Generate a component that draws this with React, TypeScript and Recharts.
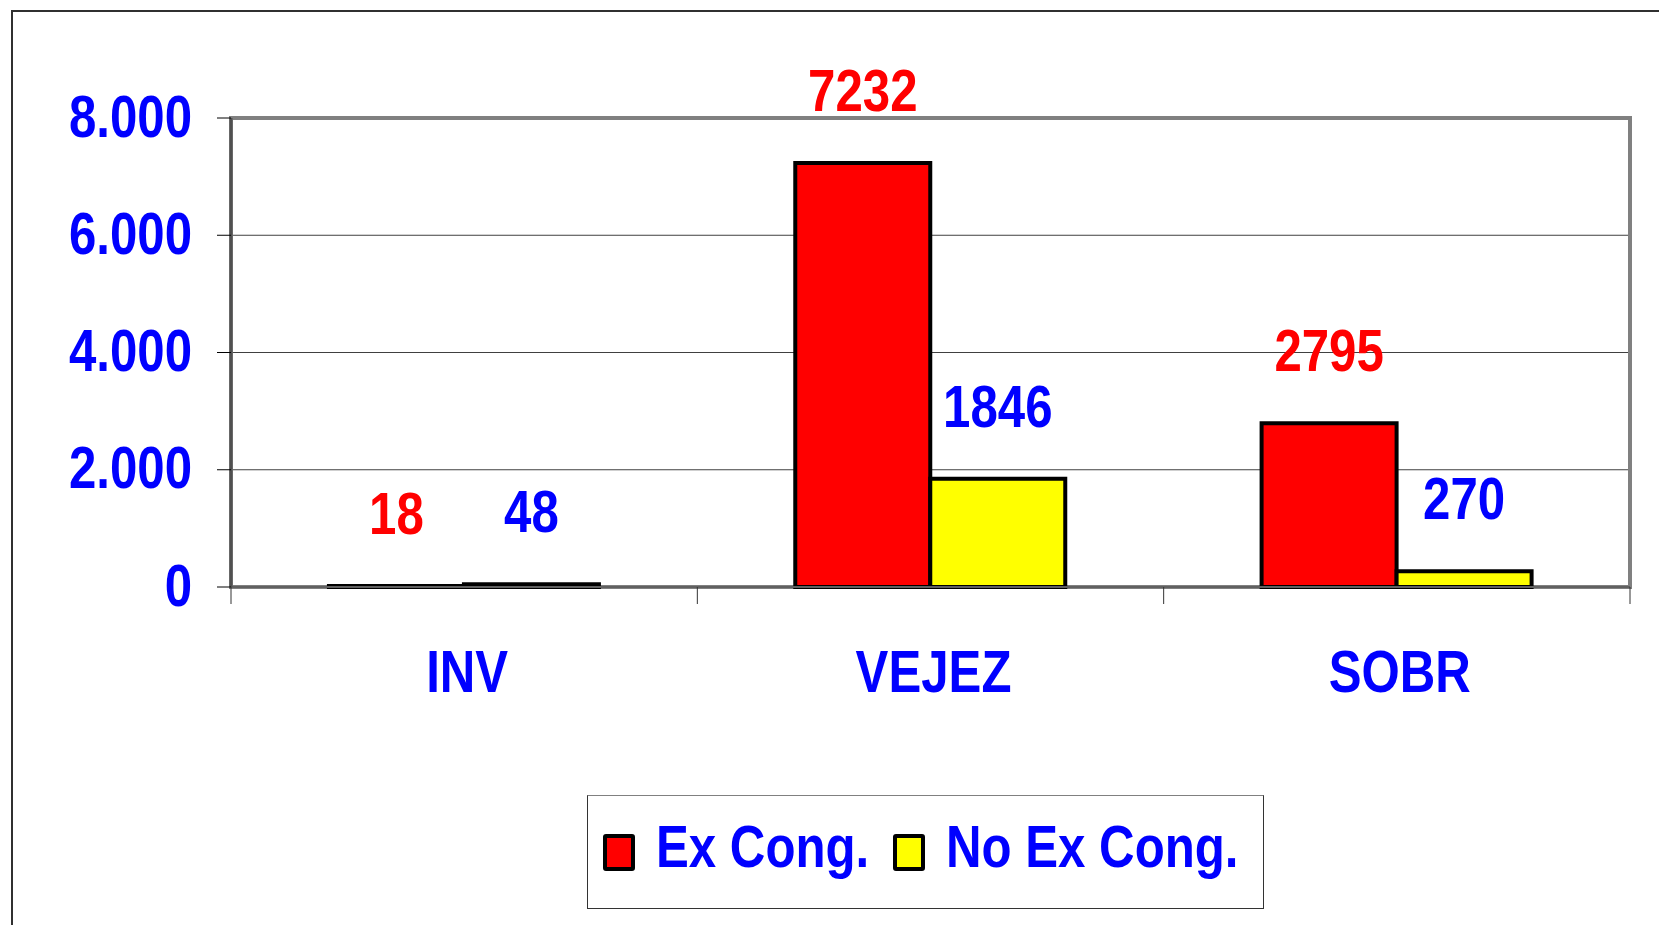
import React from 'react'
import { BarChart, Bar, XAxis, YAxis, CartesianGrid, ReferenceArea, LabelList } from 'recharts'

const categories = ['INV', 'VEJEZ', 'SOBR']
const exCong = [18, 7232, 2795]
const noExCong = [48, 1846, 270]
const seriesNames = ['Ex Cong.', 'No Ex Cong.']
const yTicks = [0, 2000, 4000, 6000, 8000]

// no Arial Narrow here, so squeeze Liberation Sans horizontally
const FONT = '"Liberation Sans", Arial, sans-serif'
const NARROW = 0.82
const BLUE = '#0000FF'
const RED = '#FF0000'
const YELLOW = '#FFFF00'

const data = categories.map((name, i) => ({
  name,
  exCong: exCong[i],
  noExCong: noExCong[i]
}))

// 8000 -> "8.000"
const formatThousands = (v: number) => String(v).replace(/\B(?=(\d{3})+(?!\d))/g, '.')

const NarrowText = ({ x, y, anchor, color, children, dy }: any) => (
  <text
    transform={`translate(${x},${y}) scale(${NARROW},1)`}
    textAnchor={anchor}
    dy={dy}
    fill={color}
    fontSize={60}
    fontWeight="bold"
    fontFamily={FONT}
  >
    {children}
  </text>
)

const CategoryTick = (props: any) => {
  const { x, y, payload, index } = props
  const half = payload.offset ?? 0
  return (
    <g>
      <line x1={x - half} x2={x - half} y1={y} y2={y + 17} stroke="#333" />
      {index === categories.length - 1 && (
        <line x1={x + half} x2={x + half} y1={y} y2={y + 17} stroke="#333" />
      )}
      <NarrowText x={x + 3} y={y + 105} anchor="middle" color={BLUE}>{payload.value}</NarrowText>
    </g>
  )
}

const ValueTick = (props: any) => {
  const { x, y, payload } = props
  return (
    <NarrowText x={x} y={y} dy="0.31em" anchor="end" color={BLUE}>
      {formatThousands(payload.value)}
    </NarrowText>
  )
}

const valueLabel = (color: string) => (props: any) => {
  const { x, y, width, value } = props
  return <NarrowText x={x + width / 2} y={y - 52} anchor="middle" color={color}>{value}</NarrowText>
}

const LegendKey = ({ color }: { color: string }) => (
  <span style={{
    display: 'inline-block', width: 24, height: 29, background: color,
    border: '4px solid #000', borderRadius: 3
  }} />
)

const LegendText = ({ text, width }: { text: string, width: number }) => (
  <span style={{ display: 'inline-block', width, whiteSpace: 'nowrap', lineHeight: 1 }}>
    <span style={{ display: 'inline-block', transform: `scaleX(${NARROW})`, transformOrigin: 'left center' }}>{text}</span>
  </span>
)

export default function App() {
  return (
    <div style={{ position: 'relative', width: 1643, height: 909, overflow: 'hidden', background: '#fff' }}>
      <div style={{ position: 'fixed', left: 11, top: 10, width: 1700, height: 1000, border: '2px solid #303030' }} />
      <BarChart
        width={1643}
        height={909}
        data={data}
        barCategoryGap="21%"
        barGap={0}
        margin={{ top: 110, right: 21, left: 0, bottom: 230 }}
      >
        <CartesianGrid vertical={false} stroke="#404040" />
        <ReferenceArea y1={0} y2={8000} fill="none" stroke="#808080" strokeWidth={4} ifOverflow="visible" />
        <XAxis
          dataKey="name"
          height={100}
          tickSize={0}
          tickMargin={0}
          tickLine={false}
          interval={0}
          axisLine={{ stroke: '#606060', strokeWidth: 2 }}
          tick={<CategoryTick />}
        />
        <YAxis
          width={223}
          domain={[0, 8000]}
          ticks={yTicks}
          interval={0}
          tickSize={14}
          tickMargin={25}
          tickLine={{ stroke: '#000' }}
          axisLine={{ stroke: '#505050', strokeWidth: 3 }}
          tick={<ValueTick />}
        />
        <Bar dataKey="exCong" name={seriesNames[0]} fill={RED} stroke="#000" strokeWidth={4} isAnimationActive={false}>
          <LabelList dataKey="exCong" content={valueLabel(RED)} />
        </Bar>
        <Bar dataKey="noExCong" name={seriesNames[1]} fill={YELLOW} stroke="#000" strokeWidth={4} isAnimationActive={false}>
          <LabelList dataKey="noExCong" content={valueLabel(BLUE)} />
        </Bar>
      </BarChart>
      <div style={{
        position: 'absolute', left: 579, top: 787, width: 675, height: 112,
        border: '1px solid #333', borderTopColor: '#808080', background: '#fff', display: 'flex', alignItems: 'center',
        fontFamily: FONT, fontWeight: 'bold', fontSize: 60, color: BLUE
      }}>
        <span style={{ marginLeft: 15, display: 'flex', alignItems: 'center', marginTop: 0 }}><LegendKey color={RED} /></span>
        <span style={{ marginLeft: 21, marginTop: -12 }}><LegendText text={seriesNames[0]} width={215} /></span>
        <span style={{ marginLeft: 22, display: 'flex', alignItems: 'center', marginTop: 0 }}><LegendKey color={YELLOW} /></span>
        <span style={{ marginLeft: 21, marginTop: -12 }}><LegendText text={seriesNames[1]} width={293} /></span>
      </div>
    </div>
  )
}
